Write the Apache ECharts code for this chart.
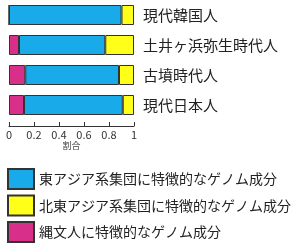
<!DOCTYPE html>
<html>
<head>
<meta charset="utf-8">
<script src="https://cdn.jsdelivr.net/npm/echarts@6/dist/echarts.min.js"></script>
<style>
html,body{margin:0;padding:0;background:#fff;}
#chart{width:304px;height:250px;}
</style>
</head>
<body>
<div id="chart"></div>
<script>
var categories = ['現代韓国人', '土井ヶ浜弥生時代人', '古墳時代人', '現代日本人'];
var jomon = [0, 0.08, 0.13, 0.12];
var eastAsia = [0.9, 0.69, 0.75, 0.79];
var northEastAsia = [0.1, 0.23, 0.12, 0.09];
var names = ['東アジア系集団に特徴的なゲノム成分', '北東アジア系集団に特徴的なゲノム成分', '縄文人に特徴的なゲノム成分'];

var font = '"Noto Sans CJK JP", "Noto Sans", sans-serif';
var border = { borderColor: '#333', borderWidth: 1 };

var chart = echarts.init(document.getElementById('chart'));
chart.setOption({
    animation: false,
    textStyle: { fontFamily: font },
    grid: { left: 9, width: 125, top: -3, height: 123 },
    legend: {
        orient: 'vertical',
        left: 7,
        top: 168,
        padding: 0,
        height: 80,
        itemWidth: 26,
        itemHeight: 20,
        itemGap: 4.5,
        icon: 'rect',
        data: names,
        textStyle: { fontSize: 14, color: '#222', fontFamily: font }
    },
    xAxis: {
        type: 'value',
        min: 0,
        max: 1,
        interval: 0.2,
        offset: 6,
        name: '割合',
        nameLocation: 'middle',
        nameGap: 15,
        nameTextStyle: { fontSize: 9, color: '#444' },
        axisLine: { show: true, lineStyle: { color: '#333', width: 1 } },
        axisTick: { show: true, inside: true, length: 4, lineStyle: { color: '#333' } },
        axisLabel: { fontSize: 11, color: '#333', margin: 3 },
        splitLine: { show: false }
    },
    yAxis: {
        type: 'category',
        data: categories,
        inverse: true,
        position: 'right',
        axisLine: { show: false },
        axisTick: { show: false },
        axisLabel: { fontSize: 15, color: '#222', margin: 9, align: 'left' }
    },
    series: [
        { name: names[2], type: 'bar', stack: 'a', data: jomon, barWidth: 20,
          itemStyle: Object.assign({ color: '#d8308a' }, border) },
        { name: names[0], type: 'bar', stack: 'a', data: eastAsia, barWidth: 20,
          itemStyle: Object.assign({ color: '#19aaea' }, border) },
        { name: names[1], type: 'bar', stack: 'a', data: northEastAsia, barWidth: 20,
          itemStyle: Object.assign({ color: '#ffff1a' }, border) }
    ]
});
</script>
</body>
</html>
